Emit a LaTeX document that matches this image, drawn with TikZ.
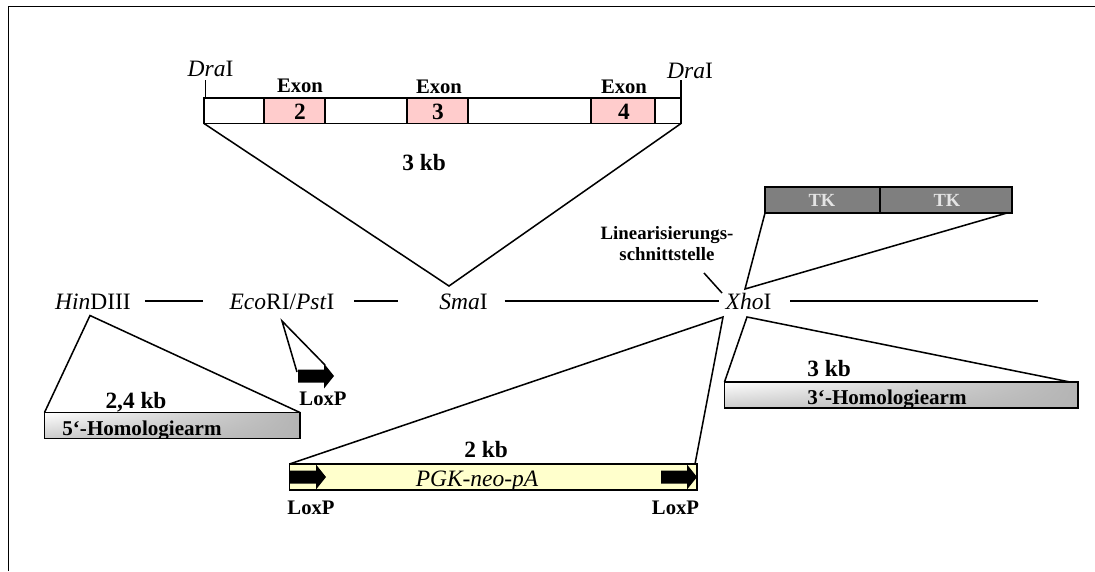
\documentclass[tikz,border=0pt]{standalone}
\usepackage{fontspec}
\usetikzlibrary{shadings}
\setmainfont{Liberation Serif}
\def\px{0.75pt}
\newcommand{\fsz}[1]{\fontsize{#1}{#1}\selectfont}
\tikzset{
  site/.style={inner sep=0pt, outer sep=0pt, text height=12pt, text depth=0pt, font=\fsz{17.6}},
  lab/.style={inner sep=0pt, anchor=base, font=\fsz{15.5}\bfseries},
  kb/.style={inner sep=0pt, anchor=base, font=\fsz{17.5}\bfseries},
  armlab/.style={inner sep=0pt, anchor=base, font=\fsz{15.8}\bfseries},
  small/.style={inner sep=0pt, anchor=base, font=\fsz{14.1}\bfseries},
  tklab/.style={inner sep=0pt, anchor=base, font=\fsz{13.9}\bfseries, text=tktext},
  boxn/.style={draw, anchor=north west, inner sep=0pt, outer sep=0pt},
  exonbox/.style={boxn, fill=exonpink, minimum height=25.5*\px},
  loxp/.pic={\fill (-36,-6.5)--(-10,-6.5)--(-10,-12.5)--(0,0)--(-10,12.5)--(-10,6.5)--(-36,6.5)--cycle;}
}
\definecolor{exonpink}{HTML}{FFCCCC}
\definecolor{cassette}{HTML}{FFFFCC}
\definecolor{tkgray}{HTML}{7F7F7F}
\definecolor{tktext}{HTML}{E4E4E4}
\definecolor{armgray}{HTML}{B4B4B4}
\begin{document}
\begin{tikzpicture}[x=0.75pt, y=-0.75pt, line width=1.15pt]
\useasboundingbox (0,0) rectangle (1095,571);
% frame
\coordinate (fbl) at (8.5,571);
\coordinate (ftl) at (8.5,6.7);
\coordinate (ftr) at (1095,6.7);
\draw (fbl) -- (ftl) -- (ftr);

% genomic fragment
\node[boxn, minimum width=477*\px, minimum height=25.5*\px] (bar) at (204,98) {};
\node[exonbox, minimum width=61*\px] (ex2) at (264,98) {};
\node[exonbox, minimum width=61*\px] (ex3) at (407,98) {};
\node[exonbox, minimum width=64*\px] (ex4) at (591,98) {};
\node[kb] (n2) at (300,119) {2};
\node[kb] (n3) at (438,119) {3};
\node[kb] (n4) at (624,119) {4};
\node[lab] (e2) at (300,92.7) {Exon};
\node[lab] (e3) at (439,93) {Exon};
\node[lab] (e4) at (624,93) {Exon};
\node[inner sep=0pt, anchor=base, font=\fsz{17.6}] (dra1) at (210.5,76) {\textit{Dra}I};
\node[inner sep=0pt, anchor=base, font=\fsz{17.6}] (dra2) at (690,78) {\textit{Dra}I};
\coordinate (t1) at (205.7,80);
\coordinate (t2) at (681,80);
\coordinate (t1b) at (205.7,98);
\draw (t1) -- (t1b);
\draw (t2) -- (bar.south east);
\node[kb] (k3) at (424,170) {3 kb};

% main line
\node[site] (hind) at (93,301) {\textit{Hin}DIII};
\node[site] (eco) at (282,301) {\textit{Eco}RI/\textit{Pst}I};
\node[site] (sma) at (463.5,301) {\textit{Sma}I};
\node[site] (xho) at (748.5,301) {\textit{Xho}I};
\coordinate (lineend) at (1038,301);
\draw[shorten <=14*\px, shorten >=27*\px] (hind.east) -- (eco.west);
\draw[shorten <=20*\px, shorten >=41*\px] (eco.east) -- (sma.west);
\draw[shorten <=17*\px, shorten >=7*\px] (sma.east) -- (xho.west);
\draw[shorten <=19*\px] (xho.east) -- (lineend);

% insert triangle
\coordinate (smaapex) at (449,286);
\draw (bar.south west) -- (smaapex) -- (bar.south east);

% 5' arm
\coordinate (hindapex) at (90,315.5);
\shade[lower left=armgray!70!white, upper left=white, upper right=armgray, lower right=armgray] (44.5,412.5) rectangle (300,438.5);
\begin{scope}
\clip (44.5,412.5) rectangle (300,437);
\node[armlab] (arm5) at (142,435) {5‘-Homologiearm};
\end{scope}
\node[boxn, minimum width=255.5*\px, minimum height=26*\px] (box5) at (44.5,412.5) {};
\draw (box5.north west) -- (hindapex) -- (box5.north east);
\node[kb] (k24) at (136,408) {2,4 kb};

% EcoRI loxP
\coordinate (ecoapex) at (282,321);
\coordinate (ecoa) at (297,372);
\coordinate (ecob) at (325,365);
\draw (ecoa) -- (ecoapex) -- (ecob);
\pic at (334,376) {loxp};
\node[lab] (lox1) at (323,405) {LoxP};

% cassette
\node[boxn, fill=cassette, minimum width=407.5*\px, minimum height=26*\px] (pgk) at (289.5,464) {};
\pic at (326,477) {loxp};
\pic at (697,477) {loxp};
\node[inner sep=0pt, anchor=base, font=\fsz{17.6}\itshape] (pgkt) at (477,486) {PGK-neo-pA};
\node[kb] (k2) at (486,457) {2 kb};
\node[lab] (lox2) at (311,514) {LoxP};
\node[lab] (lox3) at (675.5,514) {LoxP};
\coordinate (xhoa) at (723,317);
\coordinate (pgkr) at (695,464);
\draw (pgk.north west) -- (xhoa) -- (pgkr);

% TK
\node[boxn, fill=tkgray, minimum width=115*\px, minimum height=26*\px] (tk1) at (765,187) {};
\node[boxn, fill=tkgray, minimum width=132*\px, minimum height=26*\px] (tk2) at (880,187) {};
\node[tklab] (tk1t) at (822,206) {TK};
\node[tklab] (tk2t) at (947,206) {TK};
\coordinate (tkapex) at (745,289);
\coordinate (tkr) at (1007,213);
\draw (tk1.south west) -- (tkapex) -- (tkr);

% cut site label
\node[small] (l1) at (667,239) {Linearisierungs-};
\node[small] (l2) at (667,260) {schnittstelle};
\coordinate (cuta) at (704,273);
\coordinate (cutb) at (722,293);
\draw (cuta) -- (cutb);

% 3' arm
\coordinate (arm3apex) at (747,317);
\shade[lower left=armgray!70!white, upper left=white, upper right=armgray, lower right=armgray] (724.5,382) rectangle (1078,408);
\begin{scope}
\clip (724.5,382) rectangle (1078,406.5);
\node[armlab] (arm3) at (887,404) {3‘-Homologiearm};
\end{scope}
\node[boxn, minimum width=353.5*\px, minimum height=26*\px] (box3) at (724.5,382) {};
\coordinate (arm3r) at (1070,382);
\draw (box3.north west) -- (arm3apex) -- (arm3r);
\node[kb] (k3b) at (829,376) {3 kb};
\end{tikzpicture}
\end{document}
